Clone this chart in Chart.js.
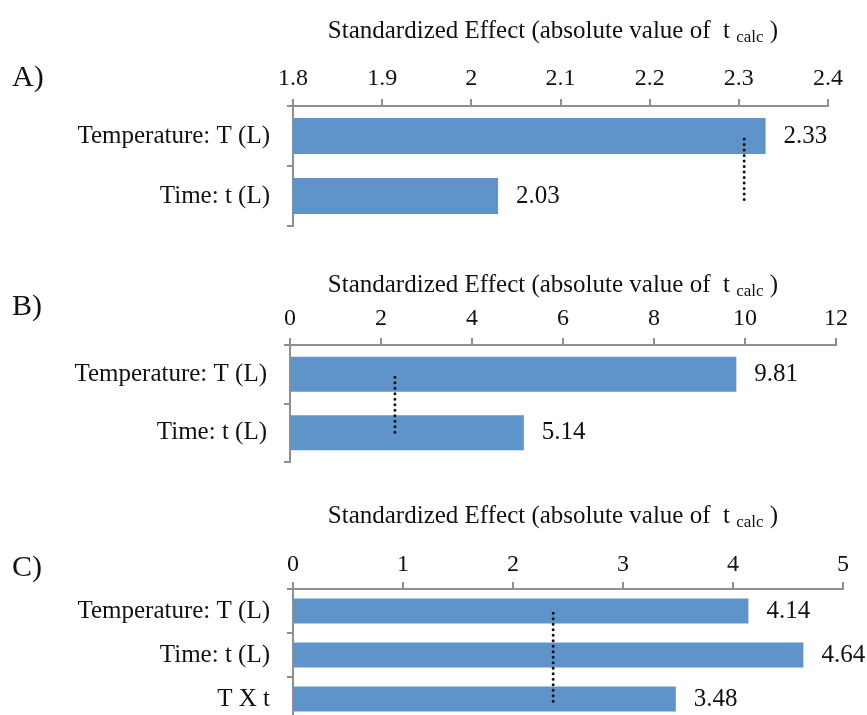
<!DOCTYPE html>
<html>
<head>
<meta charset="utf-8">
<script src="https://cdn.jsdelivr.net/npm/chart.js@4.4.1/dist/chart.umd.min.js"></script>
<style>
  body { margin: 0; background: #fff; overflow: hidden; width: 867px; height: 715px; }
  .panel { position: absolute; left: 0; width: 867px; }
  .letra { position: absolute; left: 12px; font-family: 'Liberation Serif', serif; font-size: 30px; color: #111; }
</style>
</head>
<body>
<div class="panel" style="top:0px;height:240px"><canvas id="graficaA"></canvas></div>
<div class="panel" style="top:240px;height:235px"><canvas id="graficaB"></canvas></div>
<div class="panel" style="top:475px;height:246px"><canvas id="graficaC"></canvas></div>
<div class="letra" style="top:59px">A)</div>
<div class="letra" style="top:288px">B)</div>
<div class="letra" style="top:549px">C)</div>
<script>
// panel A
var categoriasA = ['Temperature: T (L)', 'Time: t (L)'];
var efectosA = [2.33, 2.03];
var ticksA = [1.8, 1.9, 2, 2.1, 2.2, 2.3, 2.4];
var tcritA = 2.306;

// panel B
var categoriasB = ['Temperature: T (L)', 'Time: t (L)'];
var efectosB = [9.81, 5.14];
var ticksB = [0, 2, 4, 6, 8, 10, 12];
var tcritB = 2.306;

// panel C
var categoriasC = ['Temperature: T (L)', 'Time: t (L)', 'T X t'];
var efectosC = [4.14, 4.64, 3.48];
var ticksC = [0, 1, 2, 3, 4, 5];
var tcritC = 2.365;

var tituloEje = 'Standardized Effect (absolute value of  t';
var fuente = "'Liberation Serif', 'Times New Roman', serif";
var gris = '#8f8f8f';

// values next to each bar + the dotted t critical line + axis title with subscript
var extras = {
  id: 'extras',
  afterDatasetsDraw: function(chart, args, opts) {
    var ctx = chart.ctx;
    var meta = chart.getDatasetMeta(0);
    var xs = chart.scales.x, ys = chart.scales.y;
    ctx.save();
    ctx.fillStyle = '#111';
    ctx.font = '25px ' + fuente;
    ctx.textAlign = 'left';
    ctx.textBaseline = 'middle';
    meta.data.forEach(function(bar, i) {
      var v = chart.data.datasets[0].data[i];
      ctx.fillText(v.toFixed(2), bar.x + 18, bar.y);
    });

    var n = chart.data.labels.length;
    var x = xs.getPixelForValue(opts.tcrit);
    ctx.strokeStyle = '#111';
    ctx.lineWidth = 3;
    ctx.lineCap = 'round';
    ctx.setLineDash([0, 5.5]);
    ctx.beginPath();
    ctx.moveTo(x, ys.getPixelForValue(0.05));
    ctx.lineTo(x, ys.getPixelForValue(n - 1 + 0.08));
    ctx.stroke();
    ctx.setLineDash([]);

    // title: main part, subscript, closing paren
    var ty = chart.chartArea.top - opts.tituloDist;
    var parte1 = tituloEje + ' ', sub = 'calc', parte2 = ' )';
    ctx.font = '25px ' + fuente;
    var w1 = ctx.measureText(parte1).width;
    var w3 = ctx.measureText(parte2).width;
    ctx.font = '17px ' + fuente;
    var w2 = ctx.measureText(sub).width;
    var x0 = 553 - (w1 + w2 + w3) / 2;
    ctx.font = '25px ' + fuente;
    ctx.fillText(parte1, x0, ty);
    ctx.font = '17px ' + fuente;
    ctx.fillText(sub, x0 + w1, ty + 7);
    ctx.font = '25px ' + fuente;
    ctx.fillText(parte2, x0 + w1 + w2, ty);
    ctx.restore();
  }
};

function crearGrafica(id, categorias, efectos, marcas, tcrit, disp) {
  var ctx = document.getElementById(id).getContext('2d');
  return new Chart(ctx, {
    type: 'bar',
    data: {
      labels: categorias,
      datasets: [{
        data: efectos,
        backgroundColor: '#5f94ca',
        borderWidth: 0,
        categoryPercentage: 1,
        barPercentage: disp.barra
      }]
    },
    options: {
      indexAxis: 'y',
      responsive: true,
      maintainAspectRatio: false,
      animation: false,
      layout: { padding: { left: 0, top: 0, right: disp.derecha, bottom: disp.abajo } },
      plugins: {
        legend: { display: false },
        tooltip: { enabled: false },
        extras: { tcrit: tcrit, tituloDist: disp.tituloDist }
      },
      scales: {
        x: {
          position: 'top',
          min: marcas[0],
          max: marcas[marcas.length - 1],
          afterBuildTicks: function(scale) {
            scale.ticks = marcas.map(function(v) { return { value: v }; });
          },
          afterFit: function(scale) {
            scale.height = disp.arriba;
            scale.paddingLeft = 0;
            scale.paddingRight = 0;
          },
          grid: { drawOnChartArea: false, drawTicks: true, tickLength: 7, color: gris, lineWidth: 2 },
          border: { color: gris, width: 2 },
          ticks: {
            color: '#111',
            padding: disp.padTicks,
            font: { family: fuente, size: 24 },
            callback: function(v) { return String(v); }
          }
        },
        y: {
          afterFit: function(scale) {
            scale.width = disp.izquierda;
            scale.paddingTop = 0;
            scale.paddingBottom = 0;
          },
          grid: { drawOnChartArea: false, drawTicks: true, tickLength: 6, color: gris, lineWidth: 2, offset: true },
          border: { color: gris, width: 2 },
          ticks: {
            color: '#111',
            padding: 17,
            font: { family: fuente, size: 25 }
          }
        }
      }
    },
    plugins: [extras]
  });
}

crearGrafica('graficaA', categoriasA, efectosA, ticksA, tcritA,
  { arriba: 106, abajo: 14, izquierda: 293, derecha: 39, barra: 0.6, tituloDist: 75, padTicks: 6 });
crearGrafica('graficaB', categoriasB, efectosB, ticksB, tcritB,
  { arriba: 105, abajo: 13, izquierda: 290, derecha: 31, barra: 0.6, tituloDist: 60, padTicks: 5 });
crearGrafica('graficaC', categoriasC, efectosC, ticksC, tcritC,
  { arriba: 114, abajo: 0, izquierda: 293, derecha: 24, barra: 0.57, tituloDist: 73, padTicks: 3 });
</script>
</body>
</html>
